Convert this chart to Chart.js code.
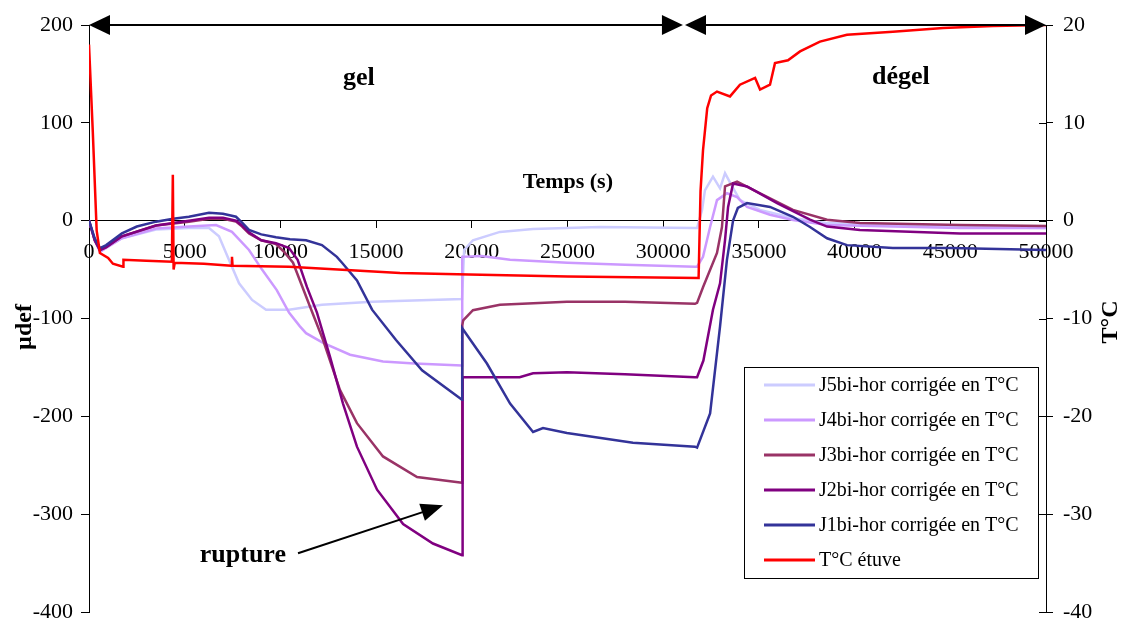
<!DOCTYPE html>
<html>
<head>
<meta charset="utf-8">
<script src="https://cdn.jsdelivr.net/npm/chart.js@4.4.0/dist/chart.umd.min.js"></script>
<style>
  html, body { margin: 0; padding: 0; background: #fff; }
  #wrap { width: 1122px; height: 621px; }
</style>
</head>
<body>
<div id="wrap"><canvas id="chart" width="1122" height="621"></canvas></div>
<script>
// time (s) / value pairs
const j1Time = [0, 300, 570, 900, 1720, 2500, 3500, 4400, 5220, 6270, 7000, 7680, 8000, 8360, 9000, 9770, 10500, 11340, 12170, 12950, 13220, 14000, 14790, 16040, 17400, 19490, 19500, 20790, 22000, 23200, 23720, 24970, 28420, 31660, 31770, 32450, 32970, 33330, 33650, 33900, 34380, 35580, 36780, 37670, 38560, 39600, 42000, 45000, 50000];
const j1Val  = [0, -18, -28, -25, -13, -6, -1, 2, 4, 8, 7, 4, -2, -9.5, -14, -17, -19, -20, -25, -37, -43, -61, -91, -122, -153, -183, -110, -146, -187, -216, -212, -217, -227, -231, -232, -197, -108, -40, 0, 13, 18, 14, 4, -6.5, -18, -25, -28, -28, -30];

const j2Time = [0, 300, 570, 900, 1720, 3500, 5220, 6270, 7000, 7680, 8000, 8360, 9000, 9770, 10450, 10900, 11390, 11910, 12590, 13270, 14000, 15050, 16410, 17970, 19490, 19520, 21000, 22500, 23200, 24970, 28000, 31660, 31770, 32100, 32600, 32970, 33230, 33390, 33650, 34380, 35950, 37670, 38560, 40280, 45500, 50000];
const j2Val  = [0, -20, -30, -27, -16, -5, 0, 3, 3, 0, -5, -12, -20, -23, -28, -40, -68, -94, -139, -187, -231, -275, -310, -330, -342, -160, -160, -160, -156, -155, -157, -160, -160, -143, -91, -64, -20, 14, 38, 35, 18, 1, -6, -9.5, -13, -13];

const j3Time = [0, 300, 570, 900, 1720, 3500, 5220, 6270, 7000, 7680, 8000, 8360, 9000, 9770, 10200, 10660, 11550, 12230, 13110, 14000, 15360, 17140, 19490, 19500, 19550, 20060, 21470, 24970, 28000, 31660, 31770, 32080, 32810, 33070, 33230, 33860, 35060, 36780, 38560, 40280, 45500, 50000];
const j3Val  = [0, -20, -30, -27, -16, -5, -1, 2, 2, -1, -6, -13, -20, -24, -32, -43, -88, -122, -173, -207, -241, -262, -268, -107, -102, -91.5, -86, -83, -83, -85, -84, -68, -33, -6.5, 35, 40, 28, 11, 1, -2.5, -4.5, -5.5];

const j4Time = [0, 300, 570, 900, 1720, 3500, 5220, 6640, 7470, 8360, 9040, 9810, 10450, 11020, 11340, 12230, 13640, 15360, 17000, 19490, 19500, 20500, 22000, 25000, 28000, 31660, 31770, 32080, 32450, 32810, 33330, 33860, 34380, 35580, 36780, 38560, 45500, 50000];
const j4Val  = [0, -20, -32, -28, -18, -8, -6, -4.5, -11.5, -30, -50, -71, -94, -108, -115, -125, -137, -144, -146, -148, -37, -36, -40, -43, -45, -47, -47, -37, -6.5, 21, 28, 24, 14, 6, 0.7, -4.5, -7.5, -7.5];

const j5Time = [0, 300, 570, 900, 1720, 3500, 5220, 6270, 6790, 7310, 7840, 8520, 9250, 10450, 12170, 14790, 19490, 19600, 20060, 21470, 23200, 26700, 31660, 31770, 32030, 32180, 32600, 32970, 33230, 33600, 34010, 35060, 36780, 38560, 45500, 50000];
const j5Val  = [0, -20, -30, -27, -18, -9, -7.5, -7.5, -16, -40, -64, -81, -91, -91, -86, -83, -80, -30, -20, -11.5, -8.5, -6.5, -7.5, -7.5, 11, 31, 45, 33, 48.5, 35, 21, 11, 2.7, -2.5, -6.5, -7.5];

// oven temperature, right axis (°C)
const tTime = [0, 200, 400, 570, 1000, 1250, 1780, 1800, 3000, 4330, 4380, 4420, 4480, 6000, 7440, 7470, 7500, 10450, 16250, 19850, 25000, 31850, 31950, 32080, 32300, 32500, 32810, 33490, 34010, 34800, 35060, 35580, 35840, 36520, 37150, 38190, 39600, 42000, 44620, 47230, 50000];
const tVal  = [18, 9, -1, -3.3, -3.8, -4.4, -4.7, -4.0, -4.1, -4.2, 4.7, -5.0, -4.3, -4.4, -4.6, -3.7, -4.6, -4.7, -5.35, -5.5, -5.7, -5.85, 3, 7.2, 11.5, 12.8, 13.2, 12.7, 13.9, 14.6, 13.4, 13.9, 16.1, 16.4, 17.3, 18.3, 19.0, 19.3, 19.7, 19.9, 20];

const xTicks = [0, 5000, 10000, 15000, 20000, 25000, 30000, 35000, 40000, 45000, 50000];
const leftTicks = [-400, -300, -200, -100, 0, 100, 200];
const rightTicks = [-40, -30, -20, -10, 0, 10, 20];

const seriesNames = ['J5bi-hor corrigée en T°C', 'J4bi-hor corrigée en T°C', 'J3bi-hor corrigée en T°C',
                     'J2bi-hor corrigée en T°C', 'J1bi-hor corrigée en T°C', 'T°C étuve'];
const seriesColors = ['#ccccff', '#cc99ff', '#993366', '#800080', '#333399', '#ff0000'];

const FONT = "'Liberation Serif', 'Times New Roman', serif";

function pts(t, v) {
  return t.map((x, i) => ({ x: x, y: v[i] }));
}

function head(ctx, tx, ty, fx, fy, len, half) {
  const a = Math.atan2(ty - fy, tx - fx);
  const c = Math.cos(a), s = Math.sin(a);
  ctx.beginPath();
  ctx.moveTo(tx, ty);
  ctx.lineTo(tx - len * c + half * s, ty - len * s - half * c);
  ctx.lineTo(tx - len * c - half * s, ty - len * s + half * c);
  ctx.closePath();
  ctx.fill();
}

// arrows, labels and legend drawn on top of the plot
const overlay = {
  id: 'overlay',
  afterDraw(chart) {
    const ctx = chart.ctx;
    const xs = chart.scales.x, ys = chart.scales.y, y2 = chart.scales.y2;
    ctx.save();
    ctx.strokeStyle = '#000';
    ctx.fillStyle = '#000';

    // inner half of the right axis ticks
    ctx.lineWidth = 1;
    rightTicks.forEach(v => {
      const py = Math.round(y2.getPixelForValue(v)) + 0.5;
      ctx.beginPath();
      ctx.moveTo(xs.right - 7, py);
      ctx.lineTo(xs.right, py);
      ctx.stroke();
    });

    // gel / dégel double arrows
    const ay = ys.getPixelForValue(200);
    const spans = [[0, 31030], [31140, 50000]];
    ctx.lineWidth = 2;
    spans.forEach(([a, b]) => {
      const p1 = xs.getPixelForValue(a), p2 = xs.getPixelForValue(b);
      ctx.beginPath();
      ctx.moveTo(p1 + 10, ay);
      ctx.lineTo(p2 - 10, ay);
      ctx.stroke();
      head(ctx, p1, ay, p2, ay, 21, 10);
      head(ctx, p2, ay, p1, ay, 21, 10);
    });

    // rupture arrow
    const rx1 = xs.getPixelForValue(10920), ry1 = ys.getPixelForValue(-340);
    const rx2 = xs.getPixelForValue(18495), ry2 = ys.getPixelForValue(-291);
    ctx.lineWidth = 2;
    ctx.beginPath();
    ctx.moveTo(rx1, ry1);
    ctx.lineTo(rx2 - 15, ry2 + 5);
    ctx.stroke();
    head(ctx, rx2, ry2, rx1, ry1, 22, 9);

    // texts
    ctx.textAlign = 'center';
    ctx.textBaseline = 'middle';
    ctx.font = 'bold 26px ' + FONT;
    ctx.fillText('gel', xs.getPixelForValue(14100), ys.getPixelForValue(146));
    ctx.fillText('dégel', xs.getPixelForValue(42420), ys.getPixelForValue(147));
    ctx.fillText('rupture', xs.getPixelForValue(8040), ys.getPixelForValue(-342));
    ctx.font = 'bold 22px ' + FONT;
    ctx.fillText('Temps (s)', xs.getPixelForValue(25020), ys.getPixelForValue(39));

    ctx.font = 'bold 24px ' + FONT;
    ctx.save();
    ctx.translate(25, 327);
    ctx.rotate(-Math.PI / 2);
    ctx.fillText('µdef', 0, 0);
    ctx.restore();
    ctx.save();
    ctx.translate(1111, 322);
    ctx.rotate(-Math.PI / 2);
    ctx.fillText('T°C', 0, 0);
    ctx.restore();

    // legend box
    const lx = 744, ly = 367, lw = 294, lh = 211;
    ctx.fillStyle = '#fff';
    ctx.fillRect(lx, ly, lw, lh);
    ctx.lineWidth = 1;
    ctx.strokeRect(lx + 0.5, ly + 0.5, lw, lh);
    ctx.font = '20px ' + FONT;
    ctx.textAlign = 'left';
    ctx.fillStyle = '#000';
    seriesNames.forEach((name, i) => {
      const ry = ly + 18 + i * 35;
      ctx.strokeStyle = seriesColors[i];
      ctx.lineWidth = 3;
      ctx.beginPath();
      ctx.moveTo(764, ry);
      ctx.lineTo(815, ry);
      ctx.stroke();
      ctx.fillText(name, 819, ry + 1);
    });
    ctx.restore();
  }
};

const lineStyle = { borderWidth: 2.5, pointRadius: 0, tension: 0, fill: false };

// drawn last-to-first, so the oven curve goes first to stay on top
const datasets = [
  Object.assign({ label: seriesNames[5], data: pts(tTime, tVal), borderColor: seriesColors[5], yAxisID: 'y2' }, lineStyle),
  Object.assign({ label: seriesNames[4], data: pts(j1Time, j1Val), borderColor: seriesColors[4], yAxisID: 'y' }, lineStyle),
  Object.assign({ label: seriesNames[3], data: pts(j2Time, j2Val), borderColor: seriesColors[3], yAxisID: 'y' }, lineStyle),
  Object.assign({ label: seriesNames[2], data: pts(j3Time, j3Val), borderColor: seriesColors[2], yAxisID: 'y' }, lineStyle),
  Object.assign({ label: seriesNames[1], data: pts(j4Time, j4Val), borderColor: seriesColors[1], yAxisID: 'y' }, lineStyle),
  Object.assign({ label: seriesNames[0], data: pts(j5Time, j5Val), borderColor: seriesColors[0], yAxisID: 'y' }, lineStyle)
];

const tickFont = { family: FONT, size: 22 };

new Chart(document.getElementById('chart').getContext('2d'), {
  type: 'line',
  data: { datasets: datasets },
  options: {
    responsive: false,
    animation: false,
    devicePixelRatio: 1,
    layout: { padding: { top: 25, left: 0, right: 0, bottom: 9 } },
    plugins: { legend: { display: false }, tooltip: { enabled: false } },
    scales: {
      x: {
        type: 'linear',
        position: { y: 0 },
        min: 0, max: 50000,
        afterBuildTicks: s => { s.ticks = xTicks.map(v => ({ value: v })); },
        ticks: { font: tickFont, color: '#000', padding: 11, autoSkip: false, maxRotation: 0,
                 callback: v => String(v) },
        grid: { drawOnChartArea: false, color: '#000', tickLength: 7 },
        border: { color: '#000', width: 1 },
        afterFit: s => { s.height = 0; s.paddingLeft = 0; s.paddingRight = 0; }
      },
      y: {
        position: 'left',
        min: -400, max: 200,
        afterBuildTicks: s => { s.ticks = leftTicks.map(v => ({ value: v })); },
        ticks: { font: tickFont, color: '#000', padding: 8, callback: v => String(v) },
        grid: { drawOnChartArea: false, color: '#000', tickLength: 8 },
        border: { color: '#000', width: 1 },
        afterFit: s => { s.width = 89; s.paddingTop = 0; s.paddingBottom = 0; }
      },
      y2: {
        position: 'right',
        min: -40, max: 20,
        afterBuildTicks: s => { s.ticks = rightTicks.map(v => ({ value: v })); },
        ticks: { font: tickFont, color: '#000', padding: 10, callback: v => String(v) },
        grid: { drawOnChartArea: false, color: '#000', tickLength: 7 },
        border: { color: '#000', width: 1 },
        afterFit: s => { s.width = 76; s.paddingTop = 0; s.paddingBottom = 0; }
      }
    }
  },
  plugins: [overlay]
});
</script>
</body>
</html>
